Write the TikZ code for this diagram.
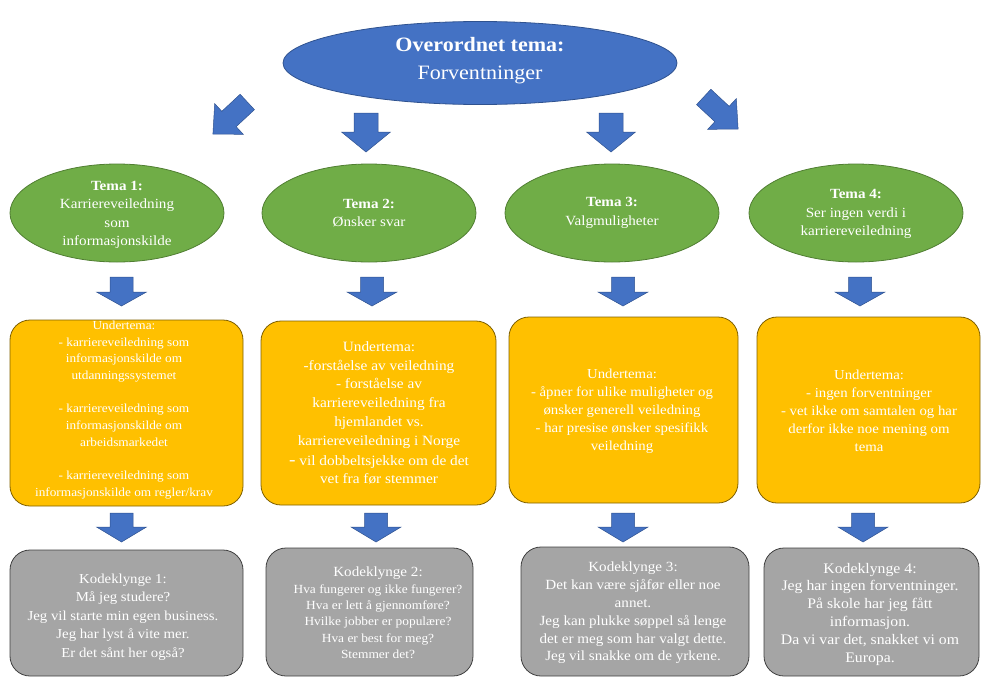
\documentclass[tikz,border=0pt]{standalone}
\usepackage{fontspec}
\setmainfont[FakeStretch=1.08]{Liberation Serif}
\usetikzlibrary{shapes.geometric}
\definecolor{bluefill}{HTML}{4472C4}
\definecolor{blueline}{HTML}{2F528F}
\definecolor{greenfill}{HTML}{70AD47}
\definecolor{greenline}{HTML}{507E32}
\definecolor{orangefill}{HTML}{FFC000}
\definecolor{orangeline}{HTML}{7F6000}
\definecolor{grayfill}{HTML}{A5A5A5}
\definecolor{grayline}{HTML}{404040}
\newcommand\fsz[2]{\fontsize{#1}{#2}\selectfont}
% x, y, angle, shaft half width, head half width, shaft length, head length
\newcommand\blockarr[7]{%
  \begin{scope}[shift={(#1,#2)},rotate=#3]
    \draw[barrow] (-#4,-#6) -- (#4,-#6) -- (#4,0) -- (#5,0) -- (0,#7) -- (-#5,0) -- (-#4,0) -- cycle;
  \end{scope}}
\begin{document}
\begin{tikzpicture}[x=1pt,y=-1pt,
  barrow/.style={fill=bluefill,draw=blueline,line width=0.5pt,line join=miter},
  topell/.style={ellipse,fill=bluefill,draw=blueline,line width=0.8pt,minimum width=394pt,minimum height=83pt,inner sep=0pt},
  temaell/.style={ellipse,fill=greenfill,draw=greenline,line width=0.8pt,minimum width=214pt,minimum height=98pt,inner sep=0pt},
  subbox/.style={rectangle,rounded corners=20pt,fill=orangefill,draw=orangeline,line width=0.8pt,inner sep=0pt},
  kodebox/.style={rectangle,rounded corners=20pt,fill=grayfill,draw=grayline,line width=0.8pt,inner sep=0pt},
  txt/.style={text=white,align=center,inner sep=0pt}]
\useasboundingbox (0,0) rectangle (981,677);

% top ellipse
\node[topell] (top) at (480,63) {};
\node[txt,font=\fsz{20.4}{28}] (toptxt) at (480,61) {\textbf{Overordnet tema:}\\Forventninger};

% arrows from top
\blockarr{229}{119}{-47}{10.5}{21}{25}{22}
\blockarr{722}{114}{47}{10.5}{21}{25}{22}
\blockarr{366}{132}{0}{12}{24.5}{19}{20}
\blockarr{611}{132}{0}{12}{24.5}{19}{20}

% tema ellipses
\node[temaell] (t1) at (117,213) {};
\node[temaell] (t2) at (369,213) {};
\node[temaell] (t3) at (612,213) {};
\node[temaell] (t4) at (856,213) {};
\node[txt,font=\fsz{14}{18.3}] (t1txt) at (117,215) {\textbf{Tema 1:}\\Karriereveiledning\\som\\informasjonskilde};
\node[txt,font=\fsz{14}{18.3}] (t2txt) at (369,213) {\textbf{Tema 2:}\\Ønsker svar};
\node[txt,font=\fsz{14}{18.3}] (t3txt) at (612,213) {\textbf{Tema 3:}\\Valgmuligheter};
\node[txt,font=\fsz{14}{18.3}] (t4txt) at (856,214) {\textbf{Tema 4:}\\Ser ingen verdi i\\karriereveiledning};

% arrows row 2
\blockarr{121.5}{292}{0}{11.5}{25}{15}{14}
\blockarr{372}{292}{0}{11.5}{25}{15}{14}
\blockarr{623}{292}{0}{11.5}{25}{15}{14}
\blockarr{860}{292}{0}{11.5}{25}{15}{14}

% undertema boxes
\node[subbox,minimum width=233pt,minimum height=186pt] (u1) at (126.5,413) {};
\node[subbox,minimum width=235pt,minimum height=184pt] (u2) at (378.5,413) {};
\node[subbox,minimum width=229pt,minimum height=186pt] (u3) at (623.5,410) {};
\node[subbox,minimum width=223pt,minimum height=186pt] (u4) at (868.5,410) {};
\node[txt,font=\fsz{12.3}{16.7}] (u1txt) at (124,410) {Undertema:\\- karriereveiledning som\\informasjonskilde om\\utdanningssystemet\\[16.7pt]- karriereveiledning som\\informasjonskilde om\\arbeidsmarkedet\\[16.7pt]- karriereveiledning som\\informasjonskilde om regler/krav};
\node[txt,font=\fsz{14.2}{18.8}] (u2txt) at (379,413) {Undertema:\\-forståelse av veiledning\\- forståelse av\\karriereveiledning fra\\hjemlandet vs.\\karriereveiledning i Norge\\[1pt]{\fsz{18}{18}-} vil dobbeltsjekke om de det\\vet fra før stemmer};
\node[txt,font=\fsz{13.7}{18}] (u3txt) at (622,411) {Undertema:\\- åpner for ulike muligheter og\\ønsker generell veiledning\\- har presise ønsker spesifikk\\veiledning};
\node[txt,font=\fsz{13.7}{18}] (u4txt) at (869,411) {Undertema:\\- ingen forventninger\\- vet ikke om samtalen og har\\derfor ikke noe mening om\\tema};

% arrows row 3
\blockarr{121.5}{527}{0}{11.5}{25}{14}{15}
\blockarr{376}{527}{0}{11.5}{25}{14}{15}
\blockarr{623}{527}{0}{11.5}{25}{14}{15}
\blockarr{863}{527}{0}{11.5}{25}{14}{15}

% kodeklynge boxes
\node[kodebox,minimum width=233pt,minimum height=126pt] (k1) at (126.5,613) {};
\node[kodebox,minimum width=207pt,minimum height=128pt] (k2) at (369.5,612) {};
\node[kodebox,minimum width=228pt,minimum height=129pt] (k3) at (635,611.5) {};
\node[kodebox,minimum width=215pt,minimum height=128pt] (k4) at (871.5,612) {};
\node[txt,font=\fsz{13.7}{18.5}] (k1txt) at (123,617) {Kodeklynge 1:\\Må jeg studere?\\Jeg vil starte min egen business.\\Jeg har lyst å vite mer.\\Er det sånt her også?};
\node[txt,font=\fsz{12.4}{16.4}] (k2txt) at (378,613) {{\fsz{14}{16.4}Kodeklynge 2:}\\Hva fungerer og ikke fungerer?\\Hva er lett å gjennomføre?\\Hvilke jobber er populære?\\Hva er best for meg?\\Stemmer det?};
\node[txt,font=\fsz{14}{17.8}] (k3txt) at (633,613) {Kodeklynge 3:\\Det kan være sjåfør eller noe\\annet.\\Jeg kan plukke søppel så lenge\\det er meg som har valgt dette.\\Jeg vil snakke om de yrkene.};
\node[txt,font=\fsz{14.6}{17.8}] (k4txt) at (870,614) {Kodeklynge 4:\\Jeg har ingen forventninger.\\På skole har jeg fått\\informasjon.\\Da vi var det, snakket vi om\\Europa.};
\end{tikzpicture}
\end{document}
